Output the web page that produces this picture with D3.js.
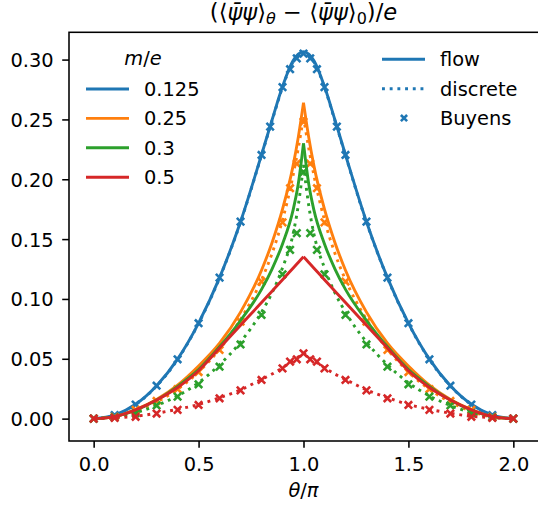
<!DOCTYPE html>
<html>
<head>
<meta charset="utf-8">
<script src="https://cdn.jsdelivr.net/npm/d3@7"></script>
<style>
  html, body { margin: 0; padding: 0; background: #fff; }
  #plot { width: 538px; height: 508px; }
  text { font-family: "DejaVu Sans", sans-serif; fill: #000; }
</style>
</head>
<body>
<div id="plot"></div>
<script>
// mass values (legend) and colours
const masses = ["0.125", "0.25", "0.3", "0.5"];
const colors = ["#1f77b4", "#ff7f0e", "#2ca02c", "#d62728"];
const hasCusp = [false, true, true, true];

// theta/pi grid for flow and discrete curves
const thetaLine = [0, 0.1, 0.2, 0.3, 0.4, 0.5, 0.6, 0.7, 0.8, 0.85, 0.9, 0.95, 0.975, 1.0,
                   1.025, 1.05, 1.1, 1.15, 1.2, 1.3, 1.4, 1.5, 1.6, 1.7, 1.8, 1.9, 2.0];

const flow125 = [0, 0.003, 0.012, 0.0275, 0.0497, 0.0798, 0.1178, 0.1645, 0.2205, 0.2495, 0.2775, 0.2990, 0.3045, 0.3066,
                 0.3045, 0.2990, 0.2775, 0.2495, 0.2205, 0.1645, 0.1178, 0.0798, 0.0497, 0.0275, 0.012, 0.003, 0];
const flow25  = [0, 0.0017, 0.0075, 0.016, 0.028, 0.044, 0.063, 0.089, 0.124, 0.147, 0.175, 0.211, 0.235, 0.264,
                 0.235, 0.211, 0.175, 0.147, 0.124, 0.089, 0.063, 0.044, 0.028, 0.016, 0.0075, 0.0017, 0];
const flow3   = [0, 0.0017, 0.007, 0.0155, 0.027, 0.041, 0.060, 0.082, 0.108, 0.125, 0.146, 0.174, 0.196, 0.230,
                 0.196, 0.174, 0.146, 0.125, 0.108, 0.082, 0.060, 0.041, 0.027, 0.0155, 0.007, 0.0017, 0];
const flow5   = [0, 0.0017, 0.0073, 0.0155, 0.026, 0.040, 0.059, 0.078, 0.097, 0.1065, 0.116, 0.1257, 0.1305, 0.1353,
                 0.1305, 0.1257, 0.116, 0.1065, 0.097, 0.078, 0.059, 0.040, 0.026, 0.0155, 0.0073, 0.0017, 0];

const disc125 = [0, 0.0028, 0.0117, 0.0272, 0.0494, 0.0795, 0.1175, 0.1641, 0.2200, 0.2488, 0.2768, 0.2980, 0.3033, 0.3052,
                 0.3033, 0.2980, 0.2768, 0.2488, 0.2200, 0.1641, 0.1175, 0.0795, 0.0494, 0.0272, 0.0117, 0.0028, 0];
const disc25  = [0, 0.0013, 0.0062, 0.0138, 0.0245, 0.039, 0.058, 0.083, 0.116, 0.138, 0.166, 0.203, 0.226, 0.252,
                 0.226, 0.203, 0.166, 0.138, 0.116, 0.083, 0.058, 0.039, 0.0245, 0.0138, 0.0062, 0.0013, 0];
const disc3   = [0, 0.001, 0.005, 0.011, 0.019, 0.030, 0.045, 0.064, 0.089, 0.105, 0.126, 0.154, 0.178, 0.212,
                 0.178, 0.154, 0.126, 0.105, 0.089, 0.064, 0.045, 0.030, 0.019, 0.011, 0.005, 0.001, 0];
const disc5   = [0, 0.0007, 0.002, 0.0045, 0.0078, 0.0118, 0.0175, 0.024, 0.0328, 0.0372, 0.0425, 0.0485, 0.0515, 0.0548,
                 0.0515, 0.0485, 0.0425, 0.0372, 0.0328, 0.024, 0.0175, 0.0118, 0.0078, 0.0045, 0.002, 0.0007, 0];

// Buyens points
const thetaBuyBlue = [0, 0.1, 0.2, 0.3, 0.4, 0.5, 0.6, 0.7, 0.8, 0.841, 0.9, 0.936, 0.968, 1.0,
                      1.032, 1.064, 1.1, 1.159, 1.2, 1.3, 1.4, 1.5, 1.6, 1.7, 1.8, 1.9, 2.0];
const thetaBuy = [0, 0.1, 0.2, 0.3, 0.4, 0.5, 0.6, 0.7, 0.8, 0.9, 0.936, 0.968, 1.0,
                  1.032, 1.064, 1.1, 1.2, 1.3, 1.4, 1.5, 1.6, 1.7, 1.8, 1.9, 2.0];
const buy125 = [0, 0.003, 0.0118, 0.0275, 0.0496, 0.0797, 0.1178, 0.1646, 0.2203, 0.244, 0.277, 0.292, 0.301, 0.305,
                0.301, 0.292, 0.277, 0.244, 0.2203, 0.1646, 0.1178, 0.0797, 0.0496, 0.0275, 0.0118, 0.003, 0];
const buy25  = [0, 0.0015, 0.0073, 0.0148, 0.0247, 0.0389, 0.0574, 0.081, 0.1145, 0.164, 0.1925, 0.213, 0.248,
                0.213, 0.1925, 0.164, 0.1145, 0.081, 0.0574, 0.0389, 0.0247, 0.0148, 0.0073, 0.0015, 0];
const buy3   = [0, 0.001, 0.0045, 0.011, 0.0184, 0.0287, 0.0434, 0.062, 0.0866, 0.1206, 0.141, 0.155, 0.206,
                0.155, 0.141, 0.1206, 0.0866, 0.062, 0.0434, 0.0287, 0.0184, 0.011, 0.0045, 0.001, 0];
const buy5   = [0, 0.0006, 0.0015, 0.0042, 0.0073, 0.0114, 0.017, 0.0236, 0.0323, 0.042, 0.0476, 0.0496, 0.0546,
                0.0496, 0.0476, 0.042, 0.0323, 0.0236, 0.017, 0.0114, 0.0073, 0.0042, 0.0015, 0.0006, 0];

const xTicks = [0, 0.5, 1.0, 1.5, 2.0];
const yTicks = [0, 0.05, 0.10, 0.15, 0.20, 0.25, 0.30];

const flows = [flow125, flow25, flow3, flow5];
const discs = [disc125, disc25, disc3, disc5];
const buys = [buy125, buy25, buy3, buy5];
const buyThetas = [thetaBuyBlue, thetaBuy, thetaBuy, thetaBuy];

const W = 538, H = 508;
const fs = 19.4, lw = 2.9;
const axLeft = 69, axRight = 538, axTop = 32.3, axBottom = 441;

const svg = d3.select("#plot").append("svg")
  .attr("width", W).attr("height", H)
  .style("background-color", "white");

const x = d3.scaleLinear().domain([-0.1175, 2.1175]).range([axLeft, axRight]);
const y = d3.scaleLinear().domain([-0.0187, 0.3228]).range([axBottom, axTop]);

svg.append("clipPath").attr("id", "clip")
  .append("rect").attr("x", axLeft).attr("y", axTop).attr("width", axRight - axLeft).attr("height", axBottom - axTop);

const plotG = svg.append("g").attr("clip-path", "url(#clip)");

function drawLine(th, vals, color, cusp, dashed) {
  const pts = th.map((t, i) => [t, vals[i]]);
  const parts = cusp ? [pts.filter(p => p[0] <= 1), pts.filter(p => p[0] >= 1)] : [pts];
  const line = d3.line().x(d => x(d[0])).y(d => y(d[1])).curve(d3.curveMonotoneX);
  parts.forEach(p => {
    plotG.append("path")
      .attr("d", line(p))
      .attr("fill", "none")
      .attr("stroke", color)
      .attr("stroke-width", lw)
      .attr("stroke-dasharray", dashed ? "2.9,4.8" : null);
  });
}

function cross(g, cx, cy, color, ms, sw) {
  g.append("path")
    .attr("d", `M${cx - ms},${cy - ms}L${cx + ms},${cy + ms}M${cx - ms},${cy + ms}L${cx + ms},${cy - ms}`)
    .attr("stroke", color).attr("stroke-width", sw).attr("fill", "none");
}

masses.forEach((m, k) => {
  drawLine(thetaLine, flows[k], colors[k], hasCusp[k], false);
  drawLine(thetaLine, discs[k], colors[k], hasCusp[k], true);
  buyThetas[k].forEach((t, i) => cross(plotG, x(t), y(buys[k][i]), colors[k], 3.7, 2.6));
});

// axes
const xAxis = svg.append("g").attr("transform", `translate(0,${axBottom})`)
  .call(d3.axisBottom(x).tickValues(xTicks).tickFormat(d3.format(".1f")).tickSize(6.8).tickPadding(6.8));
xAxis.selectAll("text").attr("dy", null).attr("y", 30).style("font-size", fs + "px");

const yAxis = svg.append("g").attr("transform", `translate(${axLeft},0)`)
  .call(d3.axisLeft(y).tickValues(yTicks).tickFormat(d3.format(".2f")).tickSize(6.8).tickPadding(8.5));
yAxis.selectAll("text").attr("dy", "0.36em").style("font-size", fs + "px");

[xAxis, yAxis].forEach(a => {
  a.select(".domain").remove();
  a.selectAll(".tick line").attr("stroke", "#000").attr("stroke-width", 1.55);
  a.selectAll("text").style("font-family", "DejaVu Sans").attr("fill", "#000");
});

// spines
svg.append("rect")
  .attr("x", axLeft).attr("y", axTop).attr("width", axRight + 2 - axLeft).attr("height", axBottom - axTop)
  .attr("fill", "none").attr("stroke", "#000").attr("stroke-width", 1.55);

// title
const title = svg.append("text").attr("x", (axLeft + axRight) / 2).attr("y", 20)
  .attr("text-anchor", "middle").style("font-size", "22.6px");
title.append("tspan").text("(\u27E8");
title.append("tspan").style("font-style", "italic").text("\u03C8\u0304\u03C8");
title.append("tspan").text("\u27E9");
title.append("tspan").style("font-style", "italic").style("font-size", "16px").attr("dy", 4).text("\u03B8");
title.append("tspan").attr("dy", -4).text(" \u2212 \u27E8");
title.append("tspan").style("font-style", "italic").text("\u03C8\u0304\u03C8");
title.append("tspan").text("\u27E9");
title.append("tspan").style("font-size", "16px").attr("dy", 4).text("0");
title.append("tspan").attr("dy", -4).text(")/");
title.append("tspan").style("font-style", "italic").text("e");

// x label
const xl = svg.append("text").attr("x", (axLeft + axRight) / 2).attr("y", 497)
  .attr("text-anchor", "middle").style("font-size", fs + "px");
xl.append("tspan").style("font-style", "italic").text("\u03B8");
xl.append("tspan").text("/");
xl.append("tspan").style("font-style", "italic").text("\u03C0");

// legend 1: m/e
const lg1 = svg.append("g");
const lt = lg1.append("text").attr("x", 143).attr("y", 65).attr("text-anchor", "middle").style("font-size", fs + "px");
lt.append("tspan").style("font-style", "italic").text("m");
lt.append("tspan").text("/");
lt.append("tspan").style("font-style", "italic").text("e");
masses.forEach((m, k) => {
  const ry = 89 + k * 29.4;
  lg1.append("line").attr("x1", 86).attr("x2", 129).attr("y1", ry).attr("y2", ry)
    .attr("stroke", colors[k]).attr("stroke-width", lw);
  lg1.append("text").attr("x", 144).attr("y", ry + 6.8).style("font-size", fs + "px").text(m);
});

// legend 2: methods
const lg2 = svg.append("g");
const styleNames = ["flow", "discrete", "Buyens"];
styleNames.forEach((s, k) => {
  const ry = 59.3 + k * 29.4;
  if (k < 2) {
    lg2.append("line").attr("x1", 382).attr("x2", 425).attr("y1", ry).attr("y2", ry)
      .attr("stroke", colors[0]).attr("stroke-width", lw)
      .attr("stroke-dasharray", k === 1 ? "2.9,4.8" : null);
  } else {
    cross(lg2, 404, ry, colors[0], 3.1, 2.6);
  }
  lg2.append("text").attr("x", 440).attr("y", ry + 6.8).style("font-size", fs + "px").text(s);
});
</script>
</body>
</html>
